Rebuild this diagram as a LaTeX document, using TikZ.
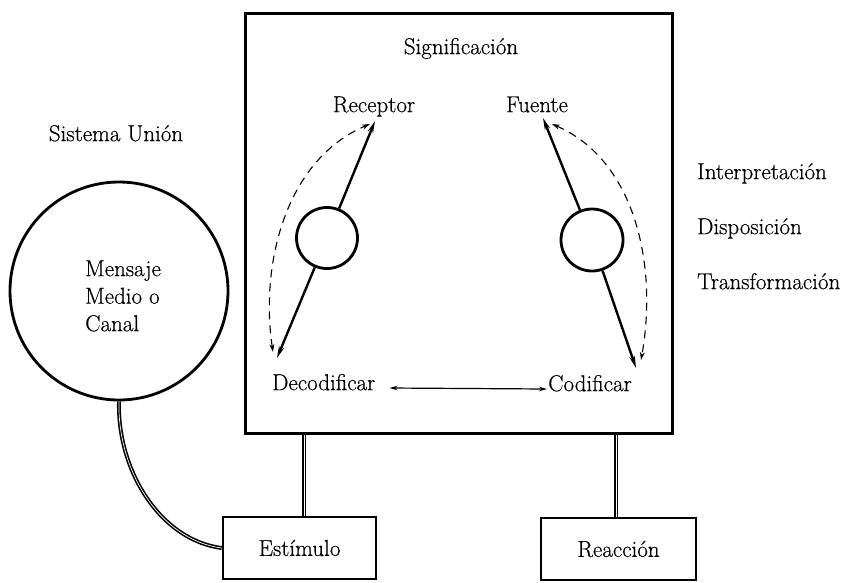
\documentclass[tikz,border=0pt]{standalone}
\usepackage{fontspec}
\newfontfamily\heavyfont{Latin Modern Roman}[FakeBold=0.5]
\usetikzlibrary{arrows.meta}
\begin{document}
\begin{tikzpicture}[x=1pt,y=-1pt,
  every node/.style={font=\heavyfont\fontsize{23}{27.5}\selectfont, inner sep=0pt},
  boxnode/.style={draw, line width=2.6pt},
  ringnode/.style={draw, circle, line width=2.8pt},
  dbl/.style={draw, double=white, double distance=0.7pt, line width=1.6pt},
  solidarrow/.style={line width=2.4pt, -{Stealth[length=12pt,width=5.5pt]}},
  dasharrow/.style={line width=1.1pt, dash pattern=on 8pt off 6pt,
     {Stealth[length=8pt,width=5pt]}-{Stealth[length=8pt,width=5pt]}},
  thinarrow/.style={line width=1.2pt,
     {Stealth[length=8pt,width=4.5pt]}-{Stealth[length=8pt,width=4.5pt]}},
  lbl/.style={anchor=mid}]

\useasboundingbox (0,0) rectangle (853,582);

% main frame
\node[draw, line width=3pt, minimum width=427pt, minimum height=420pt] (main) at (458.5,223) {};

% texts inside main frame
\node[lbl] (sig) at (461,52) {Significación};
\node[lbl] (rec) at (374,110) {Receptor};
\node[lbl] (fue) at (537,110) {Fuente};
\node[anchor=mid west] (dec) at (272,388) {Decodificar};
\node[anchor=mid west] (cod) at (548,389) {Codificar};

% small circles
\node[ringnode, minimum size=61pt] (cl) at (327,238) {};
\node[ringnode, minimum size=62pt] (cr) at (592,240) {};

% arrow tips
\coordinate (rtip) at (375,121);
\coordinate (dtip) at (277,358);
\coordinate (ftip) at (543,118);
\coordinate (ctip) at (636,368);
\coordinate (rdash) at (370,124);
\coordinate (ddash) at (273,352);
\coordinate (fdash) at (552,124);
\coordinate (cdash) at (641,360);

% solid arrows through circles
\draw[solidarrow] (cl) -- (rtip);
\draw[solidarrow] (cl) -- (dtip);
\draw[solidarrow] (cr) -- (ftip);
\draw[solidarrow] (cr) -- (ctip);

% dashed arcs
\draw[dasharrow] (ddash) .. controls (260,265) and (285,160) .. (rdash);
\draw[dasharrow] (fdash) .. controls (635,160) and (658,265) .. (cdash);

% Decodificar <-> Codificar
\draw[thinarrow] ([xshift=14pt]dec.mid east) -- ([xshift=-1pt]cod.mid west);

% right-hand labels
\node[anchor=mid west] (interp) at (697,177) {Interpretación};
\node[anchor=mid west] (dispo) at (697,232) {Disposición};
\node[anchor=mid west] (transf) at (697,287) {Transformación};

% left side
\node[lbl] (sist) at (116,139) {Sistema Unión};
\node[ringnode, minimum size=218pt] (big) at (119,291) {};
\node[anchor=west, align=left] (msg) at (85,296) {Mensaje\\Medio o\\Canal};

% bottom boxes
\node[boxnode, minimum width=153pt, minimum height=62pt] (est) at (299.5,548) {Estímulo};
\node[boxnode, minimum width=155pt, minimum height=62pt] (rea) at (618.5,549) {Reacción};

% connectors
\draw[dbl] ([xshift=4.5pt]est.north) -- ([xshift=4.5pt]est.north |- main.south);
\draw[dbl] ([xshift=-2.5pt]rea.north) -- ([xshift=-2.5pt]rea.north |- main.south);
\draw[dbl] (big.south) .. controls (117,470) and (160,540) .. (est.west);

\end{tikzpicture}
\end{document}
